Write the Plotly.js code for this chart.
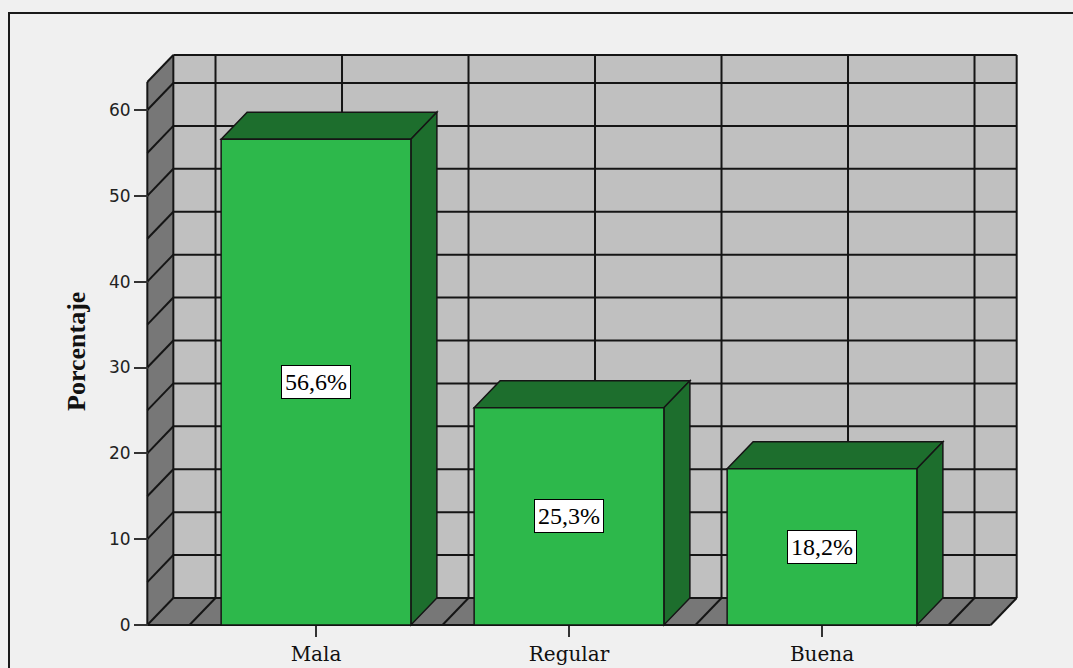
<!DOCTYPE html>
<html>
<head>
<meta charset="utf-8">
<script src="https://cdn.plot.ly/plotly-3.0.1.min.js"></script>
<style>
  html, body { margin: 0; padding: 0; background: #f0f0f0; }
  #chart { width: 1073px; height: 668px; }
</style>
</head>
<body>
<div id="chart"></div>
<script>
// Percentage of responses per rating
const categories = ['Mala', 'Regular', 'Buena'];
const percentages = [56.6, 25.3, 18.2];
const valueLabels = ['56,6%', '25,3%', '18,2%'];
const yTickValues = [0, 10, 20, 30, 40, 50, 60];

// Pseudo-3D box geometry, in axis units
const barWidth = 0.75;
const depthX = 0.1028;          // horizontal shift of the back plane
const depthY = 3.15;            // vertical shift of the back plane
const floorLeft = -0.6667;
const floorRight = 2.6667;
const wallHeight = 63.26;       // height of side/back walls
const gridStep = 5;

// Page layout (pixels) and axis scale
const W = 1073, H = 668;
const L = 138, R = 1033, T = 45, B = 632;
const xOriginPx = 316, xUnitPx = 253;
const yOriginPx = 625, yUnitPx = 8.583;

const xRange = [(L - xOriginPx) / xUnitPx, (R - xOriginPx) / xUnitPx];
const yRange = [(yOriginPx - B) / yUnitPx, (yOriginPx - T) / yUnitPx];

const COLORS = {
  page: '#f0f0f0',
  backWall: '#c0c0c0',
  sideWall: '#777777',
  grid: '#151515',
  barFront: '#2db84b',
  barDepth: '#1d6e2d'
};

const shapes = [];
const poly = (pts) => 'M ' + pts.map(p => p[0] + ',' + p[1]).join(' L ') + ' Z';
function line(x0, y0, x1, y1, w) {
  shapes.push({type: 'line', xref: 'x', yref: 'y', x0, y0, x1, y1, layer: 'below',
               line: {color: COLORS.grid, width: w || 2}});
}

// back wall
shapes.push({type: 'rect', xref: 'x', yref: 'y', layer: 'below',
  x0: floorLeft + depthX, x1: floorRight + depthX, y0: depthY, y1: wallHeight + depthY,
  fillcolor: COLORS.backWall, line: {width: 0}});
// left side wall
shapes.push({type: 'path', xref: 'x', yref: 'y', layer: 'below',
  path: poly([[floorLeft, 0], [floorLeft, wallHeight], [floorLeft + depthX, wallHeight + depthY], [floorLeft + depthX, depthY]]),
  fillcolor: COLORS.sideWall, line: {width: 0}});
// floor
shapes.push({type: 'path', xref: 'x', yref: 'y', layer: 'below',
  path: poly([[floorLeft, 0], [floorRight, 0], [floorRight + depthX, depthY], [floorLeft + depthX, depthY]]),
  fillcolor: COLORS.sideWall, line: {width: 0}});

// horizontal grid on back wall + diagonals on side wall
for (let v = 0; v <= wallHeight; v += gridStep) {
  line(floorLeft + depthX, v + depthY, floorRight + depthX, v + depthY);
  line(floorLeft, v, floorLeft + depthX, v + depthY);
}
// vertical grid on back wall + diagonals on floor
for (let x = -0.5; x <= 2.51; x += 0.5) {
  line(x + depthX, depthY, x + depthX, wallHeight + depthY);
  line(x, 0, x + depthX, depthY);
}
// box outline
line(floorLeft + depthX, wallHeight + depthY, floorRight + depthX, wallHeight + depthY);
line(floorRight + depthX, depthY, floorRight + depthX, wallHeight + depthY);
line(floorLeft + depthX, depthY, floorLeft + depthX, wallHeight + depthY);
line(floorLeft, 0, floorLeft, wallHeight);
line(floorLeft, wallHeight, floorLeft + depthX, wallHeight + depthY);
line(floorLeft, 0, floorRight, 0);
line(floorRight, 0, floorRight + depthX, depthY);

// top and side faces of each bar
percentages.forEach((v, i) => {
  const xl = i - barWidth / 2, xr = i + barWidth / 2;
  shapes.push({type: 'path', xref: 'x', yref: 'y', layer: 'below',
    path: poly([[xl, v], [xr, v], [xr + depthX, v + depthY], [xl + depthX, v + depthY]]),
    fillcolor: COLORS.barDepth, line: {color: COLORS.grid, width: 1.5}});
  shapes.push({type: 'path', xref: 'x', yref: 'y', layer: 'below',
    path: poly([[xr, 0], [xr, v], [xr + depthX, v + depthY], [xr + depthX, depthY]]),
    fillcolor: COLORS.barDepth, line: {color: COLORS.grid, width: 1.5}});
});

// outer frame of the chart
shapes.push({type: 'rect', xref: 'paper', yref: 'paper',
  x0: (9 - L) / (R - L), x1: (W + 20 - L) / (R - L),
  y0: (B - (H + 20)) / (B - T), y1: (B - 13) / (B - T),
  line: {color: '#1a1a1a', width: 2}, fillcolor: 'rgba(0,0,0,0)'});

const annotations = percentages.map((v, i) => ({
  x: i, y: v / 2, xref: 'x', yref: 'y', text: valueLabels[i], showarrow: false,
  font: {family: 'Liberation Serif, serif', size: 24, color: '#000'},
  bgcolor: '#ffffff', bordercolor: '#000000', borderwidth: 1, borderpad: 3
}));
annotations.push({
  text: '<b>Porcentaje</b>', textangle: -90, showarrow: false,
  xref: 'paper', yref: 'paper', x: (76 - L) / (R - L), y: (B - 352) / (B - T),
  xanchor: 'center', yanchor: 'middle',
  font: {family: 'Liberation Serif, serif', size: 26, color: '#111'}
});

const bars = {
  type: 'bar', x: [0, 1, 2], y: percentages, width: barWidth,
  marker: {color: COLORS.barFront, line: {color: COLORS.grid, width: 1.5}},
  hoverinfo: 'skip'
};

const layout = {
  width: W, height: H,
  margin: {l: L, r: W - R, t: T, b: H - B, pad: 0},
  paper_bgcolor: COLORS.page, plot_bgcolor: COLORS.page,
  showlegend: false,
  bargap: 0,
  xaxis: {
    range: xRange, tickvals: [0, 1, 2], ticktext: categories,
    anchor: 'free', position: (B - yOriginPx) / (B - T),
    showgrid: false, zeroline: false, showline: false,
    ticks: 'outside', ticklen: 11, tickwidth: 2, tickcolor: '#333',
    tickfont: {family: 'DejaVu Serif, serif', size: 20, color: '#111'}
  },
  yaxis: {
    range: yRange, tickvals: yTickValues,
    anchor: 'free', position: (148 - L) / (R - L),
    showgrid: false, zeroline: false, showline: false,
    ticks: 'outside', ticklen: 14, tickwidth: 2, tickcolor: '#333',
    tickfont: {family: 'DejaVu Sans, sans-serif', size: 17, color: '#222'}
  },
  shapes: shapes,
  annotations: annotations
};

Plotly.newPlot('chart', [bars], layout, {staticPlot: true, displayModeBar: false});
</script>
</body>
</html>
